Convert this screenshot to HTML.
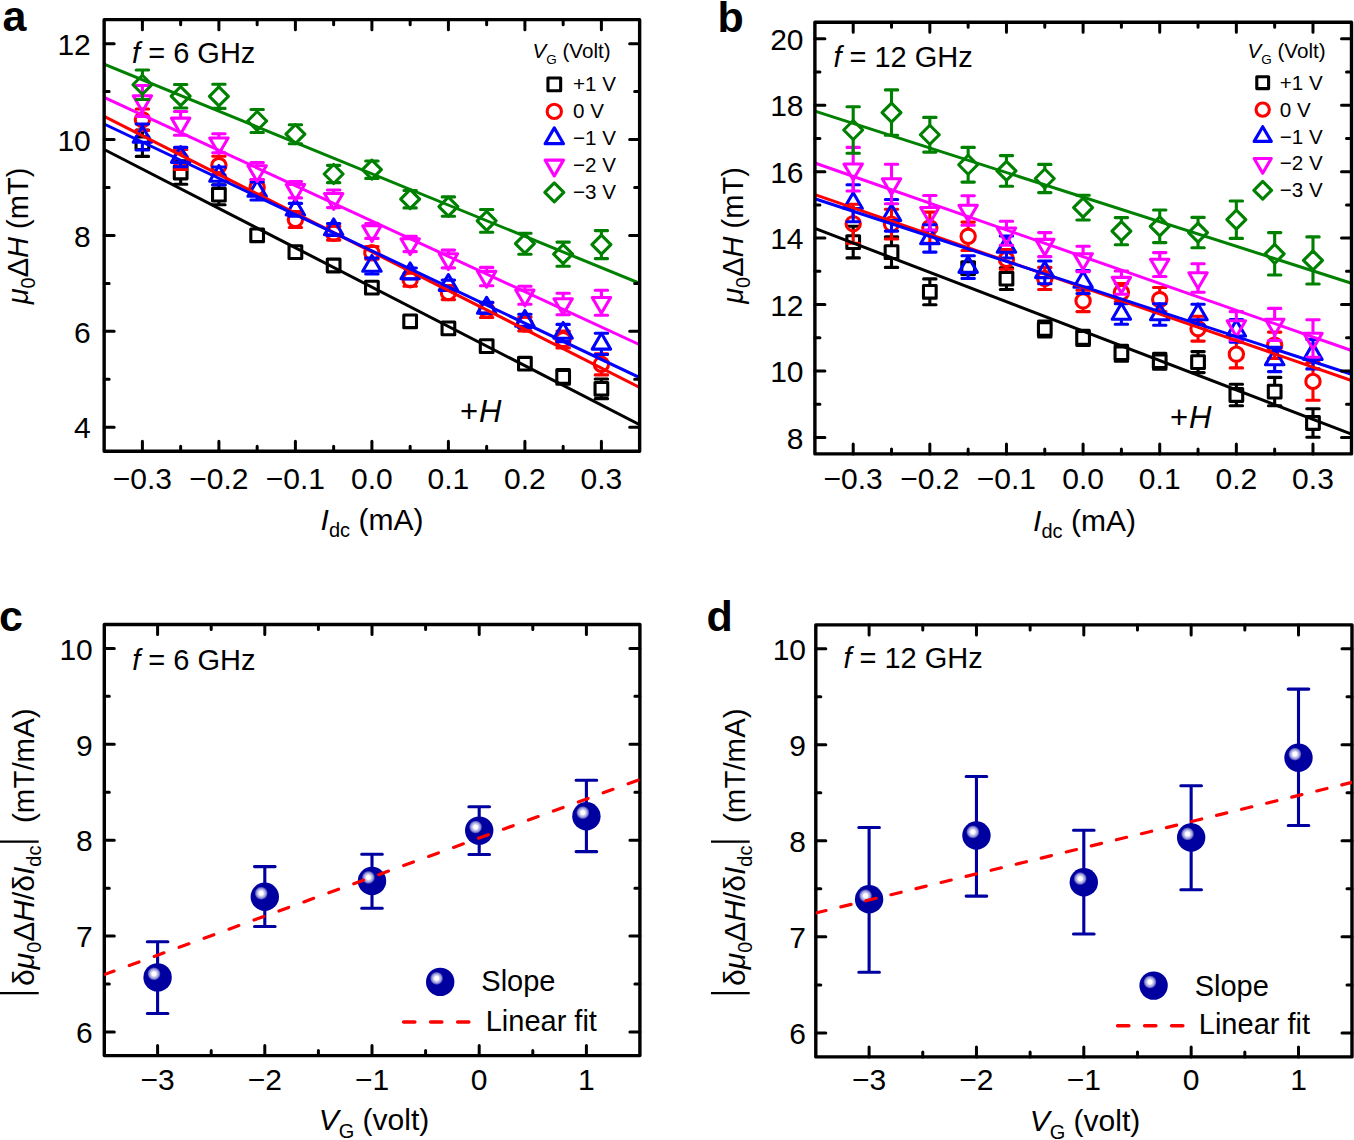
<!DOCTYPE html>
<html><head><meta charset="utf-8"><style>
html,body{margin:0;padding:0;background:#fff;}
svg{display:block;font-family:"Liberation Sans", sans-serif;}
</style></head><body>
<svg width="1354" height="1140" viewBox="0 0 1354 1140">
<rect width="1354" height="1140" fill="#fff"/>
<clipPath id="c104"><rect x="104.15" y="19.65" width="535.5" height="431.55"/></clipPath>
<g clip-path="url(#c104)">
<g><path d="M136.20 130.00H148.60M136.20 156.40H148.60M142.40 130.00V135.30M142.40 156.40V151.10" stroke="#000000" stroke-width="3.1" stroke-linecap="round" fill="none"/><path d="M174.45 160.70H186.85M174.45 184.30H186.85M180.65 160.70V164.60M180.65 184.30V180.40" stroke="#000000" stroke-width="3.1" stroke-linecap="round" fill="none"/><path d="M212.70 184.70H225.10M212.70 204.70H225.10M218.90 184.70V186.80M218.90 204.70V202.60" stroke="#000000" stroke-width="3.1" stroke-linecap="round" fill="none"/><path d="M556.95 369.50H569.35M556.95 384.30H569.35" stroke="#000000" stroke-width="3.1" stroke-linecap="round" fill="none"/><path d="M595.20 378.95H607.60M595.20 398.65H607.60M601.40 378.95V380.90M601.40 398.65V396.70" stroke="#000000" stroke-width="3.1" stroke-linecap="round" fill="none"/><rect x="136.05" y="136.85" width="12.70" height="12.70" fill="none" stroke="#000000" stroke-width="3.1" stroke-linejoin="round"/><rect x="174.30" y="166.15" width="12.70" height="12.70" fill="none" stroke="#000000" stroke-width="3.1" stroke-linejoin="round"/><rect x="212.55" y="188.35" width="12.70" height="12.70" fill="none" stroke="#000000" stroke-width="3.1" stroke-linejoin="round"/><rect x="250.80" y="228.95" width="12.70" height="12.70" fill="none" stroke="#000000" stroke-width="3.1" stroke-linejoin="round"/><rect x="289.05" y="245.75" width="12.70" height="12.70" fill="none" stroke="#000000" stroke-width="3.1" stroke-linejoin="round"/><rect x="327.30" y="259.15" width="12.70" height="12.70" fill="none" stroke="#000000" stroke-width="3.1" stroke-linejoin="round"/><rect x="365.55" y="281.25" width="12.70" height="12.70" fill="none" stroke="#000000" stroke-width="3.1" stroke-linejoin="round"/><rect x="403.80" y="314.95" width="12.70" height="12.70" fill="none" stroke="#000000" stroke-width="3.1" stroke-linejoin="round"/><rect x="442.05" y="322.05" width="12.70" height="12.70" fill="none" stroke="#000000" stroke-width="3.1" stroke-linejoin="round"/><rect x="480.30" y="339.75" width="12.70" height="12.70" fill="none" stroke="#000000" stroke-width="3.1" stroke-linejoin="round"/><rect x="518.55" y="357.35" width="12.70" height="12.70" fill="none" stroke="#000000" stroke-width="3.1" stroke-linejoin="round"/><rect x="556.80" y="370.55" width="12.70" height="12.70" fill="none" stroke="#000000" stroke-width="3.1" stroke-linejoin="round"/><rect x="595.05" y="382.45" width="12.70" height="12.70" fill="none" stroke="#000000" stroke-width="3.1" stroke-linejoin="round"/></g>
<g><path d="M136.20 109.00H148.60M136.20 130.40H148.60M142.40 109.00V111.00M142.40 130.40V128.40" stroke="#ff0000" stroke-width="3.1" stroke-linecap="round" fill="none"/><path d="M174.45 149.50H186.85M174.45 169.50H186.85M180.65 149.50V150.80M180.65 169.50V168.20" stroke="#ff0000" stroke-width="3.1" stroke-linecap="round" fill="none"/><path d="M212.70 156.30H225.10M212.70 174.70H225.10M218.90 156.30V156.80M218.90 174.70V174.20" stroke="#ff0000" stroke-width="3.1" stroke-linecap="round" fill="none"/><path d="M250.95 179.50H263.35M250.95 195.50H263.35" stroke="#ff0000" stroke-width="3.1" stroke-linecap="round" fill="none"/><path d="M289.20 211.50H301.60M289.20 227.50H301.60" stroke="#ff0000" stroke-width="3.1" stroke-linecap="round" fill="none"/><path d="M327.45 226.30H339.85M327.45 240.10H339.85" stroke="#ff0000" stroke-width="3.1" stroke-linecap="round" fill="none"/><path d="M365.70 246.50H378.10M365.70 259.10H378.10" stroke="#ff0000" stroke-width="3.1" stroke-linecap="round" fill="none"/><path d="M403.95 273.10H416.35M403.95 286.30H416.35" stroke="#ff0000" stroke-width="3.1" stroke-linecap="round" fill="none"/><path d="M442.20 285.60H454.60M442.20 299.60H454.60" stroke="#ff0000" stroke-width="3.1" stroke-linecap="round" fill="none"/><path d="M480.45 302.50H492.85M480.45 317.50H492.85" stroke="#ff0000" stroke-width="3.1" stroke-linecap="round" fill="none"/><path d="M518.70 317.00H531.10M518.70 331.00H531.10" stroke="#ff0000" stroke-width="3.1" stroke-linecap="round" fill="none"/><path d="M556.95 331.10H569.35M556.95 347.90H569.35" stroke="#ff0000" stroke-width="3.1" stroke-linecap="round" fill="none"/><path d="M595.20 353.70H607.60M595.20 374.90H607.60M601.40 353.70V355.60M601.40 374.90V373.00" stroke="#ff0000" stroke-width="3.1" stroke-linecap="round" fill="none"/><circle cx="142.40" cy="119.70" r="7.15" fill="none" stroke="#ff0000" stroke-width="3.1"/><circle cx="180.65" cy="159.50" r="7.15" fill="none" stroke="#ff0000" stroke-width="3.1"/><circle cx="218.90" cy="165.50" r="7.15" fill="none" stroke="#ff0000" stroke-width="3.1"/><circle cx="257.15" cy="187.50" r="7.15" fill="none" stroke="#ff0000" stroke-width="3.1"/><circle cx="295.40" cy="219.50" r="7.15" fill="none" stroke="#ff0000" stroke-width="3.1"/><circle cx="333.65" cy="233.20" r="7.15" fill="none" stroke="#ff0000" stroke-width="3.1"/><circle cx="371.90" cy="252.80" r="7.15" fill="none" stroke="#ff0000" stroke-width="3.1"/><circle cx="410.15" cy="279.70" r="7.15" fill="none" stroke="#ff0000" stroke-width="3.1"/><circle cx="448.40" cy="292.60" r="7.15" fill="none" stroke="#ff0000" stroke-width="3.1"/><circle cx="486.65" cy="310.00" r="7.15" fill="none" stroke="#ff0000" stroke-width="3.1"/><circle cx="524.90" cy="324.00" r="7.15" fill="none" stroke="#ff0000" stroke-width="3.1"/><circle cx="563.15" cy="339.50" r="7.15" fill="none" stroke="#ff0000" stroke-width="3.1"/><circle cx="601.40" cy="364.30" r="7.15" fill="none" stroke="#ff0000" stroke-width="3.1"/></g>
<g><path d="M136.20 124.00H148.60M136.20 150.00H148.60M142.40 124.00V126.50M142.40 150.00V143.80" stroke="#0000ff" stroke-width="3.1" stroke-linecap="round" fill="none"/><path d="M174.45 147.40H186.85M174.45 166.80H186.85M180.65 166.80V163.90" stroke="#0000ff" stroke-width="3.1" stroke-linecap="round" fill="none"/><path d="M212.70 167.00H225.10M212.70 185.00H225.10M218.90 185.00V182.80" stroke="#0000ff" stroke-width="3.1" stroke-linecap="round" fill="none"/><path d="M250.95 182.00H263.35M250.95 200.00H263.35M257.15 200.00V197.80" stroke="#0000ff" stroke-width="3.1" stroke-linecap="round" fill="none"/><path d="M289.20 203.40H301.60M289.20 216.20H301.60" stroke="#0000ff" stroke-width="3.1" stroke-linecap="round" fill="none"/><path d="M327.45 223.50H339.85M327.45 235.50H339.85" stroke="#0000ff" stroke-width="3.1" stroke-linecap="round" fill="none"/><path d="M365.70 258.00H378.10M365.70 274.00H378.10M371.90 274.00V272.80" stroke="#0000ff" stroke-width="3.1" stroke-linecap="round" fill="none"/><path d="M403.95 268.00H416.35M403.95 279.00H416.35" stroke="#0000ff" stroke-width="3.1" stroke-linecap="round" fill="none"/><path d="M442.20 280.10H454.60M442.20 290.10H454.60" stroke="#0000ff" stroke-width="3.1" stroke-linecap="round" fill="none"/><path d="M480.45 302.40H492.85M480.45 313.40H492.85" stroke="#0000ff" stroke-width="3.1" stroke-linecap="round" fill="none"/><path d="M518.70 314.20H531.10M518.70 327.80H531.10" stroke="#0000ff" stroke-width="3.1" stroke-linecap="round" fill="none"/><path d="M556.95 324.40H569.35M556.95 341.60H569.35M563.15 341.60V339.80" stroke="#0000ff" stroke-width="3.1" stroke-linecap="round" fill="none"/><path d="M595.20 333.20H607.60M595.20 354.50H607.60M601.40 333.20V333.35M601.40 354.50V350.65" stroke="#0000ff" stroke-width="3.1" stroke-linecap="round" fill="none"/><path d="M142.40 126.47L151.60 142.27H133.20Z" fill="none" stroke="#0000ff" stroke-width="3.1" stroke-linejoin="round"/><path d="M180.65 146.57L189.85 162.37H171.45Z" fill="none" stroke="#0000ff" stroke-width="3.1" stroke-linejoin="round"/><path d="M218.90 165.47L228.10 181.27H209.70Z" fill="none" stroke="#0000ff" stroke-width="3.1" stroke-linejoin="round"/><path d="M257.15 180.47L266.35 196.27H247.95Z" fill="none" stroke="#0000ff" stroke-width="3.1" stroke-linejoin="round"/><path d="M295.40 199.27L304.60 215.07H286.20Z" fill="none" stroke="#0000ff" stroke-width="3.1" stroke-linejoin="round"/><path d="M333.65 218.97L342.85 234.77H324.45Z" fill="none" stroke="#0000ff" stroke-width="3.1" stroke-linejoin="round"/><path d="M371.90 255.47L381.10 271.27H362.70Z" fill="none" stroke="#0000ff" stroke-width="3.1" stroke-linejoin="round"/><path d="M410.15 262.97L419.35 278.77H400.95Z" fill="none" stroke="#0000ff" stroke-width="3.1" stroke-linejoin="round"/><path d="M448.40 274.57L457.60 290.37H439.20Z" fill="none" stroke="#0000ff" stroke-width="3.1" stroke-linejoin="round"/><path d="M486.65 297.37L495.85 313.17H477.45Z" fill="none" stroke="#0000ff" stroke-width="3.1" stroke-linejoin="round"/><path d="M524.90 310.47L534.10 326.27H515.70Z" fill="none" stroke="#0000ff" stroke-width="3.1" stroke-linejoin="round"/><path d="M563.15 322.47L572.35 338.27H553.95Z" fill="none" stroke="#0000ff" stroke-width="3.1" stroke-linejoin="round"/><path d="M601.40 333.32L610.60 349.12H592.20Z" fill="none" stroke="#0000ff" stroke-width="3.1" stroke-linejoin="round"/></g>
<g><path d="M136.20 85.50H148.60M136.20 116.50H148.60M142.40 85.50V94.20M142.40 116.50V111.50" stroke="#ff00ff" stroke-width="3.1" stroke-linecap="round" fill="none"/><path d="M174.45 111.55H186.85M174.45 135.25H186.85M180.65 111.55V116.60M180.65 135.25V133.90" stroke="#ff00ff" stroke-width="3.1" stroke-linecap="round" fill="none"/><path d="M212.70 133.70H225.10M212.70 152.70H225.10M218.90 133.70V136.40" stroke="#ff00ff" stroke-width="3.1" stroke-linecap="round" fill="none"/><path d="M250.95 162.50H263.35M250.95 179.50H263.35M257.15 162.50V164.20" stroke="#ff00ff" stroke-width="3.1" stroke-linecap="round" fill="none"/><path d="M289.20 181.50H301.60M289.20 197.90H301.60M295.40 181.50V182.90" stroke="#ff00ff" stroke-width="3.1" stroke-linecap="round" fill="none"/><path d="M327.45 190.00H339.85M327.45 207.60H339.85M333.65 190.00V192.00" stroke="#ff00ff" stroke-width="3.1" stroke-linecap="round" fill="none"/><path d="M365.70 223.60H378.10M365.70 238.40H378.10M371.90 223.60V224.20" stroke="#ff00ff" stroke-width="3.1" stroke-linecap="round" fill="none"/><path d="M403.95 236.40H416.35M403.95 251.60H416.35M410.15 236.40V237.20" stroke="#ff00ff" stroke-width="3.1" stroke-linecap="round" fill="none"/><path d="M442.20 250.10H454.60M442.20 267.90H454.60M448.40 250.10V252.20" stroke="#ff00ff" stroke-width="3.1" stroke-linecap="round" fill="none"/><path d="M480.45 267.40H492.85M480.45 285.80H492.85M486.65 267.40V269.80" stroke="#ff00ff" stroke-width="3.1" stroke-linecap="round" fill="none"/><path d="M518.70 286.30H531.10M518.70 304.30H531.10M524.90 286.30V288.50" stroke="#ff00ff" stroke-width="3.1" stroke-linecap="round" fill="none"/><path d="M556.95 293.20H569.35M556.95 314.80H569.35M563.15 293.20V297.20M563.15 314.80V314.50" stroke="#ff00ff" stroke-width="3.1" stroke-linecap="round" fill="none"/><path d="M595.20 290.20H607.60M595.20 315.20H607.60M601.40 290.20V295.90M601.40 315.20V313.20" stroke="#ff00ff" stroke-width="3.1" stroke-linecap="round" fill="none"/><path d="M142.40 111.53L151.60 95.73H133.20Z" fill="none" stroke="#ff00ff" stroke-width="3.1" stroke-linejoin="round"/><path d="M180.65 133.93L189.85 118.13H171.45Z" fill="none" stroke="#ff00ff" stroke-width="3.1" stroke-linejoin="round"/><path d="M218.90 153.73L228.10 137.93H209.70Z" fill="none" stroke="#ff00ff" stroke-width="3.1" stroke-linejoin="round"/><path d="M257.15 181.53L266.35 165.73H247.95Z" fill="none" stroke="#ff00ff" stroke-width="3.1" stroke-linejoin="round"/><path d="M295.40 200.23L304.60 184.43H286.20Z" fill="none" stroke="#ff00ff" stroke-width="3.1" stroke-linejoin="round"/><path d="M333.65 209.33L342.85 193.53H324.45Z" fill="none" stroke="#ff00ff" stroke-width="3.1" stroke-linejoin="round"/><path d="M371.90 241.53L381.10 225.73H362.70Z" fill="none" stroke="#ff00ff" stroke-width="3.1" stroke-linejoin="round"/><path d="M410.15 254.53L419.35 238.73H400.95Z" fill="none" stroke="#ff00ff" stroke-width="3.1" stroke-linejoin="round"/><path d="M448.40 269.53L457.60 253.73H439.20Z" fill="none" stroke="#ff00ff" stroke-width="3.1" stroke-linejoin="round"/><path d="M486.65 287.13L495.85 271.33H477.45Z" fill="none" stroke="#ff00ff" stroke-width="3.1" stroke-linejoin="round"/><path d="M524.90 305.83L534.10 290.03H515.70Z" fill="none" stroke="#ff00ff" stroke-width="3.1" stroke-linejoin="round"/><path d="M563.15 314.53L572.35 298.73H553.95Z" fill="none" stroke="#ff00ff" stroke-width="3.1" stroke-linejoin="round"/><path d="M601.40 313.23L610.60 297.43H592.20Z" fill="none" stroke="#ff00ff" stroke-width="3.1" stroke-linejoin="round"/></g>
<g><path d="M136.20 70.05H148.60M136.20 99.45H148.60M142.40 70.05V75.25M142.40 99.45V94.25" stroke="#008000" stroke-width="3.1" stroke-linecap="round" fill="none"/><path d="M174.45 84.45H186.85M174.45 107.95H186.85M180.65 84.45V86.70M180.65 107.95V105.70" stroke="#008000" stroke-width="3.1" stroke-linecap="round" fill="none"/><path d="M212.70 84.20H225.10M212.70 108.40H225.10M218.90 84.20V86.80M218.90 108.40V105.80" stroke="#008000" stroke-width="3.1" stroke-linecap="round" fill="none"/><path d="M250.95 109.50H263.35M250.95 132.50H263.35M257.15 109.50V111.50M257.15 132.50V130.50" stroke="#008000" stroke-width="3.1" stroke-linecap="round" fill="none"/><path d="M289.20 124.70H301.60M289.20 143.70H301.60" stroke="#008000" stroke-width="3.1" stroke-linecap="round" fill="none"/><path d="M327.45 165.35H339.85M327.45 182.65H339.85" stroke="#008000" stroke-width="3.1" stroke-linecap="round" fill="none"/><path d="M365.70 161.00H378.10M365.70 178.40H378.10" stroke="#008000" stroke-width="3.1" stroke-linecap="round" fill="none"/><path d="M403.95 190.50H416.35M403.95 207.90H416.35" stroke="#008000" stroke-width="3.1" stroke-linecap="round" fill="none"/><path d="M442.20 196.90H454.60M442.20 216.30H454.60M448.40 196.90V197.10M448.40 216.30V216.10" stroke="#008000" stroke-width="3.1" stroke-linecap="round" fill="none"/><path d="M480.45 209.50H492.85M480.45 232.30H492.85M486.65 209.50V211.40M486.65 232.30V230.40" stroke="#008000" stroke-width="3.1" stroke-linecap="round" fill="none"/><path d="M518.70 233.20H531.10M518.70 254.20H531.10M524.90 233.20V234.20M524.90 254.20V253.20" stroke="#008000" stroke-width="3.1" stroke-linecap="round" fill="none"/><path d="M556.95 242.10H569.35M556.95 266.30H569.35M563.15 242.10V244.70M563.15 266.30V263.70" stroke="#008000" stroke-width="3.1" stroke-linecap="round" fill="none"/><path d="M595.20 230.60H607.60M595.20 258.60H607.60M601.40 230.60V235.10M601.40 258.60V254.10" stroke="#008000" stroke-width="3.1" stroke-linecap="round" fill="none"/><path d="M142.40 75.25L151.90 84.75L142.40 94.25L132.90 84.75Z" fill="none" stroke="#008000" stroke-width="3.1" stroke-linejoin="round"/><path d="M180.65 86.70L190.15 96.20L180.65 105.70L171.15 96.20Z" fill="none" stroke="#008000" stroke-width="3.1" stroke-linejoin="round"/><path d="M218.90 86.80L228.40 96.30L218.90 105.80L209.40 96.30Z" fill="none" stroke="#008000" stroke-width="3.1" stroke-linejoin="round"/><path d="M257.15 111.50L266.65 121.00L257.15 130.50L247.65 121.00Z" fill="none" stroke="#008000" stroke-width="3.1" stroke-linejoin="round"/><path d="M295.40 124.70L304.90 134.20L295.40 143.70L285.90 134.20Z" fill="none" stroke="#008000" stroke-width="3.1" stroke-linejoin="round"/><path d="M333.65 164.50L343.15 174.00L333.65 183.50L324.15 174.00Z" fill="none" stroke="#008000" stroke-width="3.1" stroke-linejoin="round"/><path d="M371.90 160.20L381.40 169.70L371.90 179.20L362.40 169.70Z" fill="none" stroke="#008000" stroke-width="3.1" stroke-linejoin="round"/><path d="M410.15 189.70L419.65 199.20L410.15 208.70L400.65 199.20Z" fill="none" stroke="#008000" stroke-width="3.1" stroke-linejoin="round"/><path d="M448.40 197.10L457.90 206.60L448.40 216.10L438.90 206.60Z" fill="none" stroke="#008000" stroke-width="3.1" stroke-linejoin="round"/><path d="M486.65 211.40L496.15 220.90L486.65 230.40L477.15 220.90Z" fill="none" stroke="#008000" stroke-width="3.1" stroke-linejoin="round"/><path d="M524.90 234.20L534.40 243.70L524.90 253.20L515.40 243.70Z" fill="none" stroke="#008000" stroke-width="3.1" stroke-linejoin="round"/><path d="M563.15 244.70L572.65 254.20L563.15 263.70L553.65 254.20Z" fill="none" stroke="#008000" stroke-width="3.1" stroke-linejoin="round"/><path d="M601.40 235.10L610.90 244.60L601.40 254.10L591.90 244.60Z" fill="none" stroke="#008000" stroke-width="3.1" stroke-linejoin="round"/></g>
<line x1="104.15" y1="149.50" x2="639.65" y2="424.70" stroke="#000000" stroke-width="3.0"/>
<line x1="104.15" y1="116.40" x2="639.65" y2="387.40" stroke="#ff0000" stroke-width="3.0"/>
<line x1="104.15" y1="124.00" x2="639.65" y2="377.60" stroke="#0000ff" stroke-width="3.0"/>
<line x1="104.15" y1="97.30" x2="639.65" y2="344.70" stroke="#ff00ff" stroke-width="3.0"/>
<line x1="104.15" y1="64.20" x2="639.65" y2="283.30" stroke="#008000" stroke-width="3.0"/>
</g>
<clipPath id="c814"><rect x="814.9" y="22.2" width="536.6" height="431.7"/></clipPath>
<g clip-path="url(#c814)">
<g><path d="M847.00 226.30H859.40M847.00 257.90H859.40M853.20 226.30V234.20M853.20 257.90V250.00" stroke="#000000" stroke-width="3.1" stroke-linecap="round" fill="none"/><path d="M885.31 236.80H897.72M885.31 267.40H897.72M891.51 236.80V244.20M891.51 267.40V260.00" stroke="#000000" stroke-width="3.1" stroke-linecap="round" fill="none"/><path d="M923.63 278.90H936.03M923.63 304.70H936.03M929.83 278.90V283.90M929.83 304.70V299.70" stroke="#000000" stroke-width="3.1" stroke-linecap="round" fill="none"/><path d="M1000.26 267.90H1012.66M1000.26 289.50H1012.66M1006.46 267.90V270.80M1006.46 289.50V286.60" stroke="#000000" stroke-width="3.1" stroke-linecap="round" fill="none"/><path d="M1038.58 321.00H1050.98M1038.58 337.00H1050.98M1044.78 321.00V321.10M1044.78 337.00V336.90" stroke="#000000" stroke-width="3.1" stroke-linecap="round" fill="none"/><path d="M1076.89 330.40H1089.29M1076.89 345.40H1089.29" stroke="#000000" stroke-width="3.1" stroke-linecap="round" fill="none"/><path d="M1115.20 345.20H1127.61M1115.20 361.20H1127.61M1121.40 345.20V345.30M1121.40 361.20V361.10" stroke="#000000" stroke-width="3.1" stroke-linecap="round" fill="none"/><path d="M1153.52 353.30H1165.92M1153.52 369.30H1165.92M1159.72 353.30V353.40M1159.72 369.30V369.20" stroke="#000000" stroke-width="3.1" stroke-linecap="round" fill="none"/><path d="M1191.84 351.60H1204.24M1191.84 372.60H1204.24M1198.04 351.60V354.20M1198.04 372.60V370.00" stroke="#000000" stroke-width="3.1" stroke-linecap="round" fill="none"/><path d="M1230.15 384.20H1242.55M1230.15 405.80H1242.55M1236.35 384.20V387.10M1236.35 405.80V402.90" stroke="#000000" stroke-width="3.1" stroke-linecap="round" fill="none"/><path d="M1268.46 377.40H1280.87M1268.46 405.80H1280.87M1274.66 377.40V383.70M1274.66 405.80V399.50" stroke="#000000" stroke-width="3.1" stroke-linecap="round" fill="none"/><path d="M1306.78 408.80H1319.18M1306.78 437.20H1319.18M1312.98 408.80V415.10M1312.98 437.20V430.90" stroke="#000000" stroke-width="3.1" stroke-linecap="round" fill="none"/><rect x="846.85" y="235.75" width="12.70" height="12.70" fill="none" stroke="#000000" stroke-width="3.1" stroke-linejoin="round"/><rect x="885.16" y="245.75" width="12.70" height="12.70" fill="none" stroke="#000000" stroke-width="3.1" stroke-linejoin="round"/><rect x="923.48" y="285.45" width="12.70" height="12.70" fill="none" stroke="#000000" stroke-width="3.1" stroke-linejoin="round"/><rect x="961.80" y="261.75" width="12.70" height="12.70" fill="none" stroke="#000000" stroke-width="3.1" stroke-linejoin="round"/><rect x="1000.11" y="272.35" width="12.70" height="12.70" fill="none" stroke="#000000" stroke-width="3.1" stroke-linejoin="round"/><rect x="1038.43" y="322.65" width="12.70" height="12.70" fill="none" stroke="#000000" stroke-width="3.1" stroke-linejoin="round"/><rect x="1076.74" y="331.55" width="12.70" height="12.70" fill="none" stroke="#000000" stroke-width="3.1" stroke-linejoin="round"/><rect x="1115.06" y="346.85" width="12.70" height="12.70" fill="none" stroke="#000000" stroke-width="3.1" stroke-linejoin="round"/><rect x="1153.37" y="354.95" width="12.70" height="12.70" fill="none" stroke="#000000" stroke-width="3.1" stroke-linejoin="round"/><rect x="1191.69" y="355.75" width="12.70" height="12.70" fill="none" stroke="#000000" stroke-width="3.1" stroke-linejoin="round"/><rect x="1230.00" y="388.65" width="12.70" height="12.70" fill="none" stroke="#000000" stroke-width="3.1" stroke-linejoin="round"/><rect x="1268.32" y="385.25" width="12.70" height="12.70" fill="none" stroke="#000000" stroke-width="3.1" stroke-linejoin="round"/><rect x="1306.63" y="416.65" width="12.70" height="12.70" fill="none" stroke="#000000" stroke-width="3.1" stroke-linejoin="round"/></g>
<g><path d="M847.00 204.20H859.40M847.00 243.20H859.40M853.20 204.20V215.00M853.20 243.20V232.40" stroke="#ff0000" stroke-width="3.1" stroke-linecap="round" fill="none"/><path d="M885.31 209.20H897.72M885.31 239.00H897.72M891.51 209.20V215.40M891.51 239.00V232.80" stroke="#ff0000" stroke-width="3.1" stroke-linecap="round" fill="none"/><path d="M923.63 212.10H936.03M923.63 243.20H936.03M929.83 212.10V218.95M929.83 243.20V236.35" stroke="#ff0000" stroke-width="3.1" stroke-linecap="round" fill="none"/><path d="M961.95 222.10H974.35M961.95 250.50H974.35M968.15 222.10V227.60M968.15 250.50V245.00" stroke="#ff0000" stroke-width="3.1" stroke-linecap="round" fill="none"/><path d="M1000.26 249.50H1012.66M1000.26 269.20H1012.66M1006.46 249.50V250.65M1006.46 269.20V268.05" stroke="#ff0000" stroke-width="3.1" stroke-linecap="round" fill="none"/><path d="M1038.58 267.40H1050.98M1038.58 289.50H1050.98M1044.78 267.40V269.75M1044.78 289.50V287.15" stroke="#ff0000" stroke-width="3.1" stroke-linecap="round" fill="none"/><path d="M1076.89 290.30H1089.29M1076.89 311.60H1089.29M1083.09 290.30V292.25M1083.09 311.60V309.65" stroke="#ff0000" stroke-width="3.1" stroke-linecap="round" fill="none"/><path d="M1115.20 283.50H1127.61M1115.20 301.50H1127.61M1121.40 283.50V283.80M1121.40 301.50V301.20" stroke="#ff0000" stroke-width="3.1" stroke-linecap="round" fill="none"/><path d="M1153.52 287.50H1165.92M1153.52 311.50H1165.92M1159.72 287.50V290.80M1159.72 311.50V308.20" stroke="#ff0000" stroke-width="3.1" stroke-linecap="round" fill="none"/><path d="M1191.84 316.30H1204.24M1191.84 341.10H1204.24M1198.04 316.30V320.00M1198.04 341.10V337.40" stroke="#ff0000" stroke-width="3.1" stroke-linecap="round" fill="none"/><path d="M1230.15 340.50H1242.55M1230.15 367.90H1242.55M1236.35 340.50V345.50M1236.35 367.90V362.90" stroke="#ff0000" stroke-width="3.1" stroke-linecap="round" fill="none"/><path d="M1268.46 332.10H1280.87M1268.46 358.40H1280.87M1274.66 332.10V336.55M1274.66 358.40V353.95" stroke="#ff0000" stroke-width="3.1" stroke-linecap="round" fill="none"/><path d="M1306.78 362.50H1319.18M1306.78 400.30H1319.18M1312.98 362.50V372.70M1312.98 400.30V390.10" stroke="#ff0000" stroke-width="3.1" stroke-linecap="round" fill="none"/><circle cx="853.20" cy="223.70" r="7.15" fill="none" stroke="#ff0000" stroke-width="3.1"/><circle cx="891.51" cy="224.10" r="7.15" fill="none" stroke="#ff0000" stroke-width="3.1"/><circle cx="929.83" cy="227.65" r="7.15" fill="none" stroke="#ff0000" stroke-width="3.1"/><circle cx="968.15" cy="236.30" r="7.15" fill="none" stroke="#ff0000" stroke-width="3.1"/><circle cx="1006.46" cy="259.35" r="7.15" fill="none" stroke="#ff0000" stroke-width="3.1"/><circle cx="1044.78" cy="278.45" r="7.15" fill="none" stroke="#ff0000" stroke-width="3.1"/><circle cx="1083.09" cy="300.95" r="7.15" fill="none" stroke="#ff0000" stroke-width="3.1"/><circle cx="1121.40" cy="292.50" r="7.15" fill="none" stroke="#ff0000" stroke-width="3.1"/><circle cx="1159.72" cy="299.50" r="7.15" fill="none" stroke="#ff0000" stroke-width="3.1"/><circle cx="1198.04" cy="328.70" r="7.15" fill="none" stroke="#ff0000" stroke-width="3.1"/><circle cx="1236.35" cy="354.20" r="7.15" fill="none" stroke="#ff0000" stroke-width="3.1"/><circle cx="1274.66" cy="345.25" r="7.15" fill="none" stroke="#ff0000" stroke-width="3.1"/><circle cx="1312.98" cy="381.40" r="7.15" fill="none" stroke="#ff0000" stroke-width="3.1"/></g>
<g><path d="M847.00 184.70H859.40M847.00 221.70H859.40M853.20 184.70V192.70M853.20 221.70V210.00" stroke="#0000ff" stroke-width="3.1" stroke-linecap="round" fill="none"/><path d="M885.31 199.50H897.72M885.31 231.10H897.72M891.51 199.50V204.80M891.51 231.10V222.10" stroke="#0000ff" stroke-width="3.1" stroke-linecap="round" fill="none"/><path d="M923.63 224.70H936.03M923.63 252.10H936.03M929.83 224.70V227.90M929.83 252.10V245.20" stroke="#0000ff" stroke-width="3.1" stroke-linecap="round" fill="none"/><path d="M961.95 255.80H974.35M961.95 278.40H974.35M968.15 255.80V256.60M968.15 278.40V273.90" stroke="#0000ff" stroke-width="3.1" stroke-linecap="round" fill="none"/><path d="M1000.26 236.00H1012.66M1000.26 258.00H1012.66M1006.46 236.00V236.50M1006.46 258.00V253.80" stroke="#0000ff" stroke-width="3.1" stroke-linecap="round" fill="none"/><path d="M1038.58 261.00H1050.98M1038.58 283.70H1050.98M1044.78 261.00V261.85M1044.78 283.70V279.15" stroke="#0000ff" stroke-width="3.1" stroke-linecap="round" fill="none"/><path d="M1076.89 270.50H1089.29M1076.89 293.50H1089.29M1083.09 270.50V271.50M1083.09 293.50V288.80" stroke="#0000ff" stroke-width="3.1" stroke-linecap="round" fill="none"/><path d="M1115.20 303.70H1127.61M1115.20 324.20H1127.61M1121.40 324.20V320.75" stroke="#0000ff" stroke-width="3.1" stroke-linecap="round" fill="none"/><path d="M1153.52 303.70H1165.92M1153.52 325.30H1165.92M1159.72 303.70V304.00M1159.72 325.30V321.30" stroke="#0000ff" stroke-width="3.1" stroke-linecap="round" fill="none"/><path d="M1191.84 304.20H1204.24M1191.84 324.80H1204.24M1198.04 324.80V321.30" stroke="#0000ff" stroke-width="3.1" stroke-linecap="round" fill="none"/><path d="M1230.15 319.50H1242.55M1230.15 342.10H1242.55M1236.35 319.50V320.30M1236.35 342.10V337.60" stroke="#0000ff" stroke-width="3.1" stroke-linecap="round" fill="none"/><path d="M1268.46 347.40H1280.87M1268.46 371.60H1280.87M1274.66 347.40V349.00M1274.66 371.60V366.30" stroke="#0000ff" stroke-width="3.1" stroke-linecap="round" fill="none"/><path d="M1306.78 339.40H1319.18M1306.78 368.90H1319.18M1312.98 339.40V343.65M1312.98 368.90V360.95" stroke="#0000ff" stroke-width="3.1" stroke-linecap="round" fill="none"/><path d="M853.20 192.67L862.40 208.47H844.00Z" fill="none" stroke="#0000ff" stroke-width="3.1" stroke-linejoin="round"/><path d="M891.51 204.77L900.72 220.57H882.31Z" fill="none" stroke="#0000ff" stroke-width="3.1" stroke-linejoin="round"/><path d="M929.83 227.87L939.03 243.67H920.63Z" fill="none" stroke="#0000ff" stroke-width="3.1" stroke-linejoin="round"/><path d="M968.15 256.57L977.35 272.37H958.95Z" fill="none" stroke="#0000ff" stroke-width="3.1" stroke-linejoin="round"/><path d="M1006.46 236.47L1015.66 252.27H997.26Z" fill="none" stroke="#0000ff" stroke-width="3.1" stroke-linejoin="round"/><path d="M1044.78 261.82L1053.98 277.62H1035.58Z" fill="none" stroke="#0000ff" stroke-width="3.1" stroke-linejoin="round"/><path d="M1083.09 271.47L1092.29 287.27H1073.89Z" fill="none" stroke="#0000ff" stroke-width="3.1" stroke-linejoin="round"/><path d="M1121.40 303.42L1130.61 319.22H1112.20Z" fill="none" stroke="#0000ff" stroke-width="3.1" stroke-linejoin="round"/><path d="M1159.72 303.97L1168.92 319.77H1150.52Z" fill="none" stroke="#0000ff" stroke-width="3.1" stroke-linejoin="round"/><path d="M1198.04 303.97L1207.24 319.77H1188.84Z" fill="none" stroke="#0000ff" stroke-width="3.1" stroke-linejoin="round"/><path d="M1236.35 320.27L1245.55 336.07H1227.15Z" fill="none" stroke="#0000ff" stroke-width="3.1" stroke-linejoin="round"/><path d="M1274.66 348.97L1283.87 364.77H1265.46Z" fill="none" stroke="#0000ff" stroke-width="3.1" stroke-linejoin="round"/><path d="M1312.98 343.62L1322.18 359.42H1303.78Z" fill="none" stroke="#0000ff" stroke-width="3.1" stroke-linejoin="round"/></g>
<g><path d="M847.00 147.40H859.40M847.00 191.00H859.40M853.20 147.40V162.40M853.20 191.00V179.70" stroke="#ff00ff" stroke-width="3.1" stroke-linecap="round" fill="none"/><path d="M885.31 164.20H897.72M885.31 203.80H897.72M891.51 164.20V177.20M891.51 203.80V194.50" stroke="#ff00ff" stroke-width="3.1" stroke-linecap="round" fill="none"/><path d="M923.63 195.50H936.03M923.63 230.00H936.03M929.83 195.50V205.95M929.83 230.00V223.25" stroke="#ff00ff" stroke-width="3.1" stroke-linecap="round" fill="none"/><path d="M961.95 195.75H974.35M961.95 225.25H974.35M968.15 195.75V203.70M968.15 225.25V221.00" stroke="#ff00ff" stroke-width="3.1" stroke-linecap="round" fill="none"/><path d="M1000.26 221.30H1012.66M1000.26 245.30H1012.66M1006.46 221.30V226.50M1006.46 245.30V243.80" stroke="#ff00ff" stroke-width="3.1" stroke-linecap="round" fill="none"/><path d="M1038.58 232.60H1050.98M1038.58 256.60H1050.98M1044.78 232.60V237.80M1044.78 256.60V255.10" stroke="#ff00ff" stroke-width="3.1" stroke-linecap="round" fill="none"/><path d="M1076.89 246.30H1089.29M1076.89 271.60H1089.29M1083.09 246.30V252.15M1083.09 271.60V269.45" stroke="#ff00ff" stroke-width="3.1" stroke-linecap="round" fill="none"/><path d="M1115.20 271.00H1127.61M1115.20 294.20H1127.61M1121.40 271.00V275.80M1121.40 294.20V293.10" stroke="#ff00ff" stroke-width="3.1" stroke-linecap="round" fill="none"/><path d="M1153.52 252.60H1165.92M1153.52 276.50H1165.92M1159.72 252.60V257.75M1159.72 276.50V275.05" stroke="#ff00ff" stroke-width="3.1" stroke-linecap="round" fill="none"/><path d="M1191.84 263.70H1204.24M1191.84 292.30H1204.24M1198.04 263.70V271.20M1198.04 292.30V288.50" stroke="#ff00ff" stroke-width="3.1" stroke-linecap="round" fill="none"/><path d="M1230.15 311.60H1242.55M1230.15 340.40H1242.55M1236.35 311.60V319.20M1236.35 340.40V336.50" stroke="#ff00ff" stroke-width="3.1" stroke-linecap="round" fill="none"/><path d="M1268.46 308.40H1280.87M1268.46 340.50H1280.87M1274.66 308.40V317.65M1274.66 340.50V334.95" stroke="#ff00ff" stroke-width="3.1" stroke-linecap="round" fill="none"/><path d="M1306.78 319.70H1319.18M1306.78 357.30H1319.18M1312.98 319.70V331.70M1312.98 357.30V349.00" stroke="#ff00ff" stroke-width="3.1" stroke-linecap="round" fill="none"/><path d="M853.20 179.73L862.40 163.93H844.00Z" fill="none" stroke="#ff00ff" stroke-width="3.1" stroke-linejoin="round"/><path d="M891.51 194.53L900.72 178.73H882.31Z" fill="none" stroke="#ff00ff" stroke-width="3.1" stroke-linejoin="round"/><path d="M929.83 223.28L939.03 207.48H920.63Z" fill="none" stroke="#ff00ff" stroke-width="3.1" stroke-linejoin="round"/><path d="M968.15 221.03L977.35 205.23H958.95Z" fill="none" stroke="#ff00ff" stroke-width="3.1" stroke-linejoin="round"/><path d="M1006.46 243.83L1015.66 228.03H997.26Z" fill="none" stroke="#ff00ff" stroke-width="3.1" stroke-linejoin="round"/><path d="M1044.78 255.13L1053.98 239.33H1035.58Z" fill="none" stroke="#ff00ff" stroke-width="3.1" stroke-linejoin="round"/><path d="M1083.09 269.48L1092.29 253.68H1073.89Z" fill="none" stroke="#ff00ff" stroke-width="3.1" stroke-linejoin="round"/><path d="M1121.40 293.13L1130.61 277.33H1112.20Z" fill="none" stroke="#ff00ff" stroke-width="3.1" stroke-linejoin="round"/><path d="M1159.72 275.08L1168.92 259.28H1150.52Z" fill="none" stroke="#ff00ff" stroke-width="3.1" stroke-linejoin="round"/><path d="M1198.04 288.53L1207.24 272.73H1188.84Z" fill="none" stroke="#ff00ff" stroke-width="3.1" stroke-linejoin="round"/><path d="M1236.35 336.53L1245.55 320.73H1227.15Z" fill="none" stroke="#ff00ff" stroke-width="3.1" stroke-linejoin="round"/><path d="M1274.66 334.98L1283.87 319.18H1265.46Z" fill="none" stroke="#ff00ff" stroke-width="3.1" stroke-linejoin="round"/><path d="M1312.98 349.03L1322.18 333.23H1303.78Z" fill="none" stroke="#ff00ff" stroke-width="3.1" stroke-linejoin="round"/></g>
<g><path d="M847.00 106.80H859.40M847.00 153.20H859.40M853.20 106.80V120.50M853.20 153.20V139.50" stroke="#008000" stroke-width="3.1" stroke-linecap="round" fill="none"/><path d="M885.31 89.90H897.72M885.31 135.30H897.72M891.51 89.90V103.10M891.51 135.30V122.10" stroke="#008000" stroke-width="3.1" stroke-linecap="round" fill="none"/><path d="M923.63 117.40H936.03M923.63 152.10H936.03M929.83 117.40V125.25M929.83 152.10V144.25" stroke="#008000" stroke-width="3.1" stroke-linecap="round" fill="none"/><path d="M961.95 147.40H974.35M961.95 182.10H974.35M968.15 147.40V155.25M968.15 182.10V174.25" stroke="#008000" stroke-width="3.1" stroke-linecap="round" fill="none"/><path d="M1000.26 155.60H1012.66M1000.26 186.30H1012.66M1006.46 155.60V161.45M1006.46 186.30V180.45" stroke="#008000" stroke-width="3.1" stroke-linecap="round" fill="none"/><path d="M1038.58 164.40H1050.98M1038.58 192.60H1050.98M1044.78 164.40V169.00M1044.78 192.60V188.00" stroke="#008000" stroke-width="3.1" stroke-linecap="round" fill="none"/><path d="M1076.89 195.30H1089.29M1076.89 220.00H1089.29M1083.09 195.30V198.15M1083.09 220.00V217.15" stroke="#008000" stroke-width="3.1" stroke-linecap="round" fill="none"/><path d="M1115.20 217.60H1127.61M1115.20 244.70H1127.61M1121.40 217.60V221.65M1121.40 244.70V240.65" stroke="#008000" stroke-width="3.1" stroke-linecap="round" fill="none"/><path d="M1153.52 210.00H1165.92M1153.52 242.60H1165.92M1159.72 210.00V216.80M1159.72 242.60V235.80" stroke="#008000" stroke-width="3.1" stroke-linecap="round" fill="none"/><path d="M1191.84 217.40H1204.24M1191.84 247.70H1204.24M1198.04 217.40V223.05M1198.04 247.70V242.05" stroke="#008000" stroke-width="3.1" stroke-linecap="round" fill="none"/><path d="M1230.15 201.00H1242.55M1230.15 238.40H1242.55M1236.35 201.00V210.20M1236.35 238.40V229.20" stroke="#008000" stroke-width="3.1" stroke-linecap="round" fill="none"/><path d="M1268.46 232.60H1280.87M1268.46 275.00H1280.87M1274.66 232.60V244.30M1274.66 275.00V263.30" stroke="#008000" stroke-width="3.1" stroke-linecap="round" fill="none"/><path d="M1306.78 236.90H1319.18M1306.78 284.00H1319.18M1312.98 236.90V250.95M1312.98 284.00V269.95" stroke="#008000" stroke-width="3.1" stroke-linecap="round" fill="none"/><path d="M853.20 120.50L862.70 130.00L853.20 139.50L843.70 130.00Z" fill="none" stroke="#008000" stroke-width="3.1" stroke-linejoin="round"/><path d="M891.51 103.10L901.01 112.60L891.51 122.10L882.01 112.60Z" fill="none" stroke="#008000" stroke-width="3.1" stroke-linejoin="round"/><path d="M929.83 125.25L939.33 134.75L929.83 144.25L920.33 134.75Z" fill="none" stroke="#008000" stroke-width="3.1" stroke-linejoin="round"/><path d="M968.15 155.25L977.65 164.75L968.15 174.25L958.65 164.75Z" fill="none" stroke="#008000" stroke-width="3.1" stroke-linejoin="round"/><path d="M1006.46 161.45L1015.96 170.95L1006.46 180.45L996.96 170.95Z" fill="none" stroke="#008000" stroke-width="3.1" stroke-linejoin="round"/><path d="M1044.78 169.00L1054.28 178.50L1044.78 188.00L1035.28 178.50Z" fill="none" stroke="#008000" stroke-width="3.1" stroke-linejoin="round"/><path d="M1083.09 198.15L1092.59 207.65L1083.09 217.15L1073.59 207.65Z" fill="none" stroke="#008000" stroke-width="3.1" stroke-linejoin="round"/><path d="M1121.40 221.65L1130.90 231.15L1121.40 240.65L1111.90 231.15Z" fill="none" stroke="#008000" stroke-width="3.1" stroke-linejoin="round"/><path d="M1159.72 216.80L1169.22 226.30L1159.72 235.80L1150.22 226.30Z" fill="none" stroke="#008000" stroke-width="3.1" stroke-linejoin="round"/><path d="M1198.04 223.05L1207.54 232.55L1198.04 242.05L1188.54 232.55Z" fill="none" stroke="#008000" stroke-width="3.1" stroke-linejoin="round"/><path d="M1236.35 210.20L1245.85 219.70L1236.35 229.20L1226.85 219.70Z" fill="none" stroke="#008000" stroke-width="3.1" stroke-linejoin="round"/><path d="M1274.66 244.30L1284.16 253.80L1274.66 263.30L1265.16 253.80Z" fill="none" stroke="#008000" stroke-width="3.1" stroke-linejoin="round"/><path d="M1312.98 250.95L1322.48 260.45L1312.98 269.95L1303.48 260.45Z" fill="none" stroke="#008000" stroke-width="3.1" stroke-linejoin="round"/></g>
<line x1="814.90" y1="228.30" x2="1351.50" y2="434.10" stroke="#000000" stroke-width="3.0"/>
<line x1="814.90" y1="194.60" x2="1351.50" y2="380.50" stroke="#ff0000" stroke-width="3.0"/>
<line x1="814.90" y1="198.80" x2="1351.50" y2="374.20" stroke="#0000ff" stroke-width="3.0"/>
<line x1="814.90" y1="163.00" x2="1351.50" y2="350.50" stroke="#ff00ff" stroke-width="3.0"/>
<line x1="814.90" y1="111.10" x2="1351.50" y2="283.20" stroke="#008000" stroke-width="3.0"/>
</g>
<path d="M142.40 451.20V441.20M142.40 19.65V29.65M218.90 451.20V441.20M218.90 19.65V29.65M295.40 451.20V441.20M295.40 19.65V29.65M371.90 451.20V441.20M371.90 19.65V29.65M448.40 451.20V441.20M448.40 19.65V29.65M524.90 451.20V441.20M524.90 19.65V29.65M601.40 451.20V441.20M601.40 19.65V29.65M180.65 451.20V446.20M180.65 19.65V24.65M257.15 451.20V446.20M257.15 19.65V24.65M333.65 451.20V446.20M333.65 19.65V24.65M410.15 451.20V446.20M410.15 19.65V24.65M486.65 451.20V446.20M486.65 19.65V24.65M563.15 451.20V446.20M563.15 19.65V24.65" stroke="#000" stroke-width="3.0" stroke-linecap="round" fill="none"/>
<path d="M104.15 427.25H114.15M639.65 427.25H629.65M104.15 331.35H114.15M639.65 331.35H629.65M104.15 235.45H114.15M639.65 235.45H629.65M104.15 139.55H114.15M639.65 139.55H629.65M104.15 43.65H114.15M639.65 43.65H629.65M104.15 379.30H109.15M639.65 379.30H634.65M104.15 283.40H109.15M639.65 283.40H634.65M104.15 187.50H109.15M639.65 187.50H634.65M104.15 91.60H109.15M639.65 91.60H634.65" stroke="#000" stroke-width="3.0" stroke-linecap="round" fill="none"/>
<rect x="104.15" y="19.65" width="535.50" height="431.55" fill="none" stroke="#000" stroke-width="3.4" stroke-linejoin="round"/>
<path d="M853.20 453.90V443.90M853.20 22.20V32.20M929.83 453.90V443.90M929.83 22.20V32.20M1006.46 453.90V443.90M1006.46 22.20V32.20M1083.09 453.90V443.90M1083.09 22.20V32.20M1159.72 453.90V443.90M1159.72 22.20V32.20M1236.35 453.90V443.90M1236.35 22.20V32.20M1312.98 453.90V443.90M1312.98 22.20V32.20M891.51 453.90V448.90M891.51 22.20V27.20M968.14 453.90V448.90M968.14 22.20V27.20M1044.78 453.90V448.90M1044.78 22.20V27.20M1121.40 453.90V448.90M1121.40 22.20V27.20M1198.04 453.90V448.90M1198.04 22.20V27.20M1274.66 453.90V448.90M1274.66 22.20V27.20" stroke="#000" stroke-width="3.0" stroke-linecap="round" fill="none"/>
<path d="M814.90 437.44H824.90M1351.50 437.44H1341.50M814.90 371.00H824.90M1351.50 371.00H1341.50M814.90 304.56H824.90M1351.50 304.56H1341.50M814.90 238.12H824.90M1351.50 238.12H1341.50M814.90 171.68H824.90M1351.50 171.68H1341.50M814.90 105.24H824.90M1351.50 105.24H1341.50M814.90 38.80H824.90M1351.50 38.80H1341.50M814.90 404.22H819.90M1351.50 404.22H1346.50M814.90 337.78H819.90M1351.50 337.78H1346.50M814.90 271.34H819.90M1351.50 271.34H1346.50M814.90 204.90H819.90M1351.50 204.90H1346.50M814.90 138.46H819.90M1351.50 138.46H1346.50M814.90 72.02H819.90M1351.50 72.02H1346.50" stroke="#000" stroke-width="3.0" stroke-linecap="round" fill="none"/>
<rect x="814.9" y="22.2" width="536.60" height="431.70" fill="none" stroke="#000" stroke-width="3.4" stroke-linejoin="round"/>
<path d="M157.60 1055.60V1045.60M157.60 624.50V634.50M264.80 1055.60V1045.60M264.80 624.50V634.50M372.00 1055.60V1045.60M372.00 624.50V634.50M479.20 1055.60V1045.60M479.20 624.50V634.50M586.40 1055.60V1045.60M586.40 624.50V634.50M211.20 1055.60V1050.60M211.20 624.50V629.50M318.40 1055.60V1050.60M318.40 624.50V629.50M425.60 1055.60V1050.60M425.60 624.50V629.50M532.80 1055.60V1050.60M532.80 624.50V629.50" stroke="#000" stroke-width="3.0" stroke-linecap="round" fill="none"/>
<path d="M104.30 1032.00H114.30M639.90 1032.00H629.90M104.30 936.10H114.30M639.90 936.10H629.90M104.30 840.20H114.30M639.90 840.20H629.90M104.30 744.30H114.30M639.90 744.30H629.90M104.30 648.40H114.30M639.90 648.40H629.90M104.30 984.05H109.30M639.90 984.05H634.90M104.30 888.15H109.30M639.90 888.15H634.90M104.30 792.25H109.30M639.90 792.25H634.90M104.30 696.35H109.30M639.90 696.35H634.90" stroke="#000" stroke-width="3.0" stroke-linecap="round" fill="none"/>
<rect x="104.3" y="624.5" width="535.60" height="431.10" fill="none" stroke="#000" stroke-width="3.4" stroke-linejoin="round"/>
<path d="M869.10 1056.90V1046.90M869.10 624.90V634.90M976.45 1056.90V1046.90M976.45 624.90V634.90M1083.80 1056.90V1046.90M1083.80 624.90V634.90M1191.15 1056.90V1046.90M1191.15 624.90V634.90M1298.50 1056.90V1046.90M1298.50 624.90V634.90M922.77 1056.90V1051.90M922.77 624.90V629.90M1030.12 1056.90V1051.90M1030.12 624.90V629.90M1137.47 1056.90V1051.90M1137.47 624.90V629.90M1244.83 1056.90V1051.90M1244.83 624.90V629.90" stroke="#000" stroke-width="3.0" stroke-linecap="round" fill="none"/>
<path d="M815.80 1032.90H825.80M1352.00 1032.90H1342.00M815.80 936.85H825.80M1352.00 936.85H1342.00M815.80 840.80H825.80M1352.00 840.80H1342.00M815.80 744.75H825.80M1352.00 744.75H1342.00M815.80 648.70H825.80M1352.00 648.70H1342.00M815.80 984.88H820.80M1352.00 984.88H1347.00M815.80 888.83H820.80M1352.00 888.83H1347.00M815.80 792.78H820.80M1352.00 792.78H1347.00M815.80 696.73H820.80M1352.00 696.73H1347.00" stroke="#000" stroke-width="3.0" stroke-linecap="round" fill="none"/>
<rect x="815.8" y="624.9" width="536.20" height="432.00" fill="none" stroke="#000" stroke-width="3.4" stroke-linejoin="round"/>
<defs><radialGradient id="ball" cx="0.374" cy="0.374" r="0.235" fx="0.374" fy="0.374">
<stop offset="0" stop-color="#ffffff"/><stop offset="0.3" stop-color="#ffffff"/>
<stop offset="0.45" stop-color="#d0d0f0"/><stop offset="0.62" stop-color="#b0b0e2"/><stop offset="0.82" stop-color="#7070c8"/>
<stop offset="1" stop-color="#0000a0"/></radialGradient></defs>
<path d="M157.60 941.70V1013.50M147.30 941.70H167.90M147.30 1013.50H167.90" stroke="#0000a0" stroke-width="3.1" stroke-linecap="round" fill="none"/>
<circle cx="157.60" cy="977.40" r="14.2" fill="url(#ball)"/>
<path d="M264.80 866.60V926.50M254.50 866.60H275.10M254.50 926.50H275.10" stroke="#0000a0" stroke-width="3.1" stroke-linecap="round" fill="none"/>
<circle cx="264.80" cy="896.80" r="14.2" fill="url(#ball)"/>
<path d="M372.00 854.20V908.30M361.70 854.20H382.30M361.70 908.30H382.30" stroke="#0000a0" stroke-width="3.1" stroke-linecap="round" fill="none"/>
<circle cx="372.00" cy="881.00" r="14.2" fill="url(#ball)"/>
<path d="M479.20 806.70V854.50M468.90 806.70H489.50M468.90 854.50H489.50" stroke="#0000a0" stroke-width="3.1" stroke-linecap="round" fill="none"/>
<circle cx="479.20" cy="830.60" r="14.2" fill="url(#ball)"/>
<path d="M586.40 780.20V851.60M576.10 780.20H596.70M576.10 851.60H596.70" stroke="#0000a0" stroke-width="3.1" stroke-linecap="round" fill="none"/>
<circle cx="586.40" cy="816.20" r="14.2" fill="url(#ball)"/>
<clipPath id="c104b"><rect x="104.3" y="624.5" width="535.6" height="431.0999999999999"/></clipPath>
<g clip-path="url(#c104b)">
<line x1="104.30" y1="974.60" x2="639.90" y2="779.50" stroke="#ff0000" stroke-width="3.2" stroke-dasharray="10.4 16.15" stroke-linecap="round"/>
</g>
<path d="M869.10 827.50V972.30M858.80 827.50H879.40M858.80 972.30H879.40" stroke="#0000a0" stroke-width="3.1" stroke-linecap="round" fill="none"/>
<circle cx="869.10" cy="899.30" r="14.2" fill="url(#ball)"/>
<path d="M976.45 776.50V896.10M966.15 776.50H986.75M966.15 896.10H986.75" stroke="#0000a0" stroke-width="3.1" stroke-linecap="round" fill="none"/>
<circle cx="976.45" cy="835.50" r="14.2" fill="url(#ball)"/>
<path d="M1083.80 830.30V934.00M1073.50 830.30H1094.10M1073.50 934.00H1094.10" stroke="#0000a0" stroke-width="3.1" stroke-linecap="round" fill="none"/>
<circle cx="1083.80" cy="882.20" r="14.2" fill="url(#ball)"/>
<path d="M1191.15 785.70V889.70M1180.85 785.70H1201.45M1180.85 889.70H1201.45" stroke="#0000a0" stroke-width="3.1" stroke-linecap="round" fill="none"/>
<circle cx="1191.15" cy="837.50" r="14.2" fill="url(#ball)"/>
<path d="M1298.50 689.10V825.50M1288.20 689.10H1308.80M1288.20 825.50H1308.80" stroke="#0000a0" stroke-width="3.1" stroke-linecap="round" fill="none"/>
<circle cx="1298.50" cy="757.70" r="14.2" fill="url(#ball)"/>
<clipPath id="c815b"><rect x="815.8" y="624.9" width="536.2" height="432.0000000000001"/></clipPath>
<g clip-path="url(#c815b)">
<line x1="815.80" y1="913.00" x2="1352.00" y2="782.40" stroke="#ff0000" stroke-width="3.2" stroke-dasharray="10.5 15.28" stroke-linecap="round"/>
</g>
<text x="2.50" y="30.70" font-size="43" text-anchor="start" font-weight="bold" font-style="normal" fill="#000" >a</text>
<text x="717.50" y="32.00" font-size="43" text-anchor="start" font-weight="bold" font-style="normal" fill="#000" >b</text>
<text x="-1.00" y="630.70" font-size="43" text-anchor="start" font-weight="bold" font-style="normal" fill="#000" >c</text>
<text x="706.60" y="631.00" font-size="43" text-anchor="start" font-weight="bold" font-style="normal" fill="#000" >d</text>
<text x="90.80" y="438.45" font-size="30" text-anchor="end" font-weight="normal" font-style="normal" fill="#000" >4</text>
<text x="90.80" y="342.55" font-size="30" text-anchor="end" font-weight="normal" font-style="normal" fill="#000" >6</text>
<text x="90.80" y="246.65" font-size="30" text-anchor="end" font-weight="normal" font-style="normal" fill="#000" >8</text>
<text x="90.80" y="150.75" font-size="30" text-anchor="end" font-weight="normal" font-style="normal" fill="#000" >10</text>
<text x="90.80" y="54.85" font-size="30" text-anchor="end" font-weight="normal" font-style="normal" fill="#000" >12</text>
<text x="803.50" y="448.64" font-size="30" text-anchor="end" font-weight="normal" font-style="normal" fill="#000" >8</text>
<text x="803.50" y="382.20" font-size="30" text-anchor="end" font-weight="normal" font-style="normal" fill="#000" >10</text>
<text x="803.50" y="315.76" font-size="30" text-anchor="end" font-weight="normal" font-style="normal" fill="#000" >12</text>
<text x="803.50" y="249.32" font-size="30" text-anchor="end" font-weight="normal" font-style="normal" fill="#000" >14</text>
<text x="803.50" y="182.88" font-size="30" text-anchor="end" font-weight="normal" font-style="normal" fill="#000" >16</text>
<text x="803.50" y="116.44" font-size="30" text-anchor="end" font-weight="normal" font-style="normal" fill="#000" >18</text>
<text x="803.50" y="50.00" font-size="30" text-anchor="end" font-weight="normal" font-style="normal" fill="#000" >20</text>
<text x="92.80" y="1043.20" font-size="30" text-anchor="end" font-weight="normal" font-style="normal" fill="#000" >6</text>
<text x="92.80" y="947.30" font-size="30" text-anchor="end" font-weight="normal" font-style="normal" fill="#000" >7</text>
<text x="92.80" y="851.40" font-size="30" text-anchor="end" font-weight="normal" font-style="normal" fill="#000" >8</text>
<text x="92.80" y="755.50" font-size="30" text-anchor="end" font-weight="normal" font-style="normal" fill="#000" >9</text>
<text x="92.80" y="659.60" font-size="30" text-anchor="end" font-weight="normal" font-style="normal" fill="#000" >10</text>
<text x="806.00" y="1044.10" font-size="30" text-anchor="end" font-weight="normal" font-style="normal" fill="#000" >6</text>
<text x="806.00" y="948.05" font-size="30" text-anchor="end" font-weight="normal" font-style="normal" fill="#000" >7</text>
<text x="806.00" y="852.00" font-size="30" text-anchor="end" font-weight="normal" font-style="normal" fill="#000" >8</text>
<text x="806.00" y="755.95" font-size="30" text-anchor="end" font-weight="normal" font-style="normal" fill="#000" >9</text>
<text x="806.00" y="659.90" font-size="30" text-anchor="end" font-weight="normal" font-style="normal" fill="#000" >10</text>
<text x="142.40" y="488.90" font-size="30" text-anchor="middle" font-weight="normal" font-style="normal" fill="#000" >−0.3</text>
<text x="218.90" y="488.90" font-size="30" text-anchor="middle" font-weight="normal" font-style="normal" fill="#000" >−0.2</text>
<text x="295.40" y="488.90" font-size="30" text-anchor="middle" font-weight="normal" font-style="normal" fill="#000" >−0.1</text>
<text x="371.90" y="488.90" font-size="30" text-anchor="middle" font-weight="normal" font-style="normal" fill="#000" >0.0</text>
<text x="448.40" y="488.90" font-size="30" text-anchor="middle" font-weight="normal" font-style="normal" fill="#000" >0.1</text>
<text x="524.90" y="488.90" font-size="30" text-anchor="middle" font-weight="normal" font-style="normal" fill="#000" >0.2</text>
<text x="601.40" y="488.90" font-size="30" text-anchor="middle" font-weight="normal" font-style="normal" fill="#000" >0.3</text>
<text x="853.20" y="488.60" font-size="30" text-anchor="middle" font-weight="normal" font-style="normal" fill="#000" >−0.3</text>
<text x="929.83" y="488.60" font-size="30" text-anchor="middle" font-weight="normal" font-style="normal" fill="#000" >−0.2</text>
<text x="1006.46" y="488.60" font-size="30" text-anchor="middle" font-weight="normal" font-style="normal" fill="#000" >−0.1</text>
<text x="1083.09" y="488.60" font-size="30" text-anchor="middle" font-weight="normal" font-style="normal" fill="#000" >0.0</text>
<text x="1159.72" y="488.60" font-size="30" text-anchor="middle" font-weight="normal" font-style="normal" fill="#000" >0.1</text>
<text x="1236.35" y="488.60" font-size="30" text-anchor="middle" font-weight="normal" font-style="normal" fill="#000" >0.2</text>
<text x="1312.98" y="488.60" font-size="30" text-anchor="middle" font-weight="normal" font-style="normal" fill="#000" >0.3</text>
<text x="157.60" y="1089.80" font-size="30" text-anchor="middle" font-weight="normal" font-style="normal" fill="#000" >−3</text>
<text x="264.80" y="1089.80" font-size="30" text-anchor="middle" font-weight="normal" font-style="normal" fill="#000" >−2</text>
<text x="372.00" y="1089.80" font-size="30" text-anchor="middle" font-weight="normal" font-style="normal" fill="#000" >−1</text>
<text x="479.20" y="1089.80" font-size="30" text-anchor="middle" font-weight="normal" font-style="normal" fill="#000" >0</text>
<text x="586.40" y="1089.80" font-size="30" text-anchor="middle" font-weight="normal" font-style="normal" fill="#000" >1</text>
<text x="869.10" y="1089.60" font-size="30" text-anchor="middle" font-weight="normal" font-style="normal" fill="#000" >−3</text>
<text x="976.45" y="1089.60" font-size="30" text-anchor="middle" font-weight="normal" font-style="normal" fill="#000" >−2</text>
<text x="1083.80" y="1089.60" font-size="30" text-anchor="middle" font-weight="normal" font-style="normal" fill="#000" >−1</text>
<text x="1191.15" y="1089.60" font-size="30" text-anchor="middle" font-weight="normal" font-style="normal" fill="#000" >0</text>
<text x="1298.50" y="1089.60" font-size="30" text-anchor="middle" font-weight="normal" font-style="normal" fill="#000" >1</text>
<text transform="translate(132.10,62.70) scale(1,1.03)" x="0" y="0" font-size="29" text-anchor="start"><tspan font-style="italic">f</tspan> = 6 GHz</text>
<text transform="translate(833.40,67.10) scale(1,1.03)" x="0" y="0" font-size="29" text-anchor="start"><tspan font-style="italic">f</tspan> = 12 GHz</text>
<text transform="translate(132.20,670.10) scale(1,1.03)" x="0" y="0" font-size="29" text-anchor="start"><tspan font-style="italic">f</tspan> = 6 GHz</text>
<text transform="translate(843.40,667.60) scale(1,1.03)" x="0" y="0" font-size="29" text-anchor="start"><tspan font-style="italic">f</tspan> = 12 GHz</text>
<text x="532.50" y="57.60" font-size="20.6" text-anchor="start" font-weight="normal" font-style="normal" fill="#000" ><tspan font-style="italic">V</tspan><tspan font-size="13.5" dy="6">G</tspan><tspan dy="-6"> (Volt)</tspan></text>
<rect x="547.95" y="78.05" width="12.70" height="12.70" fill="none" stroke="#000000" stroke-width="3.1" stroke-linejoin="round"/>
<text x="573.00" y="91.40" font-size="20.6" text-anchor="start" font-weight="normal" font-style="normal" fill="#000" >+1 V</text>
<circle cx="554.30" cy="111.40" r="7.15" fill="none" stroke="#ff0000" stroke-width="3.1"/>
<text x="573.00" y="118.40" font-size="20.6" text-anchor="start" font-weight="normal" font-style="normal" fill="#000" >0 V</text>
<path d="M554.30 127.87L563.50 143.67H545.10Z" fill="none" stroke="#0000ff" stroke-width="3.1" stroke-linejoin="round"/>
<text x="573.00" y="145.40" font-size="20.6" text-anchor="start" font-weight="normal" font-style="normal" fill="#000" >−1 V</text>
<path d="M554.30 175.93L563.50 160.13H545.10Z" fill="none" stroke="#ff00ff" stroke-width="3.1" stroke-linejoin="round"/>
<text x="573.00" y="172.40" font-size="20.6" text-anchor="start" font-weight="normal" font-style="normal" fill="#000" >−2 V</text>
<path d="M554.30 182.90L563.80 192.40L554.30 201.90L544.80 192.40Z" fill="none" stroke="#008000" stroke-width="3.1" stroke-linejoin="round"/>
<text x="573.00" y="199.40" font-size="20.6" text-anchor="start" font-weight="normal" font-style="normal" fill="#000" >−3 V</text>
<text x="1247.50" y="58.40" font-size="20.6" text-anchor="start" font-weight="normal" font-style="normal" fill="#000" ><tspan font-style="italic">V</tspan><tspan font-size="13.5" dy="6">G</tspan><tspan dy="-6"> (Volt)</tspan></text>
<rect x="1256.79" y="76.79" width="11.81" height="11.81" fill="none" stroke="#000000" stroke-width="3.1" stroke-linejoin="round"/>
<text x="1279.80" y="89.70" font-size="20.6" text-anchor="start" font-weight="normal" font-style="normal" fill="#000" >+1 V</text>
<circle cx="1262.70" cy="109.60" r="6.65" fill="none" stroke="#ff0000" stroke-width="3.1"/>
<text x="1279.80" y="116.60" font-size="20.6" text-anchor="start" font-weight="normal" font-style="normal" fill="#000" >0 V</text>
<path d="M1262.70 126.70L1271.26 141.40H1254.14Z" fill="none" stroke="#0000ff" stroke-width="3.1" stroke-linejoin="round"/>
<text x="1279.80" y="143.50" font-size="20.6" text-anchor="start" font-weight="normal" font-style="normal" fill="#000" >−1 V</text>
<path d="M1262.70 173.20L1271.26 158.50H1254.14Z" fill="none" stroke="#ff00ff" stroke-width="3.1" stroke-linejoin="round"/>
<text x="1279.80" y="170.40" font-size="20.6" text-anchor="start" font-weight="normal" font-style="normal" fill="#000" >−2 V</text>
<path d="M1262.70 181.47L1271.54 190.30L1262.70 199.14L1253.87 190.30Z" fill="none" stroke="#008000" stroke-width="3.1" stroke-linejoin="round"/>
<text x="1279.80" y="197.30" font-size="20.6" text-anchor="start" font-weight="normal" font-style="normal" fill="#000" >−3 V</text>
<text x="460.00" y="421.90" font-size="31" text-anchor="start" font-weight="normal" font-style="normal" fill="#000" >+<tspan font-style="italic" dx="1">H</tspan></text>
<text x="1170.00" y="427.80" font-size="31" text-anchor="start" font-weight="normal" font-style="normal" fill="#000" >+<tspan font-style="italic" dx="1">H</tspan></text>
<text x="372.00" y="530.40" font-size="30" text-anchor="middle" font-weight="normal" font-style="normal" fill="#000" ><tspan font-style="italic">I</tspan><tspan font-size="20" dy="7">dc</tspan><tspan dy="-7"> (mA)</tspan></text>
<text x="1084.50" y="531.00" font-size="30" text-anchor="middle" font-weight="normal" font-style="normal" fill="#000" ><tspan font-style="italic">I</tspan><tspan font-size="20" dy="7">dc</tspan><tspan dy="-7"> (mA)</tspan></text>
<text x="374.00" y="1130.40" font-size="30" text-anchor="middle" font-weight="normal" font-style="normal" fill="#000" ><tspan font-style="italic">V</tspan><tspan font-size="20" dy="8">G</tspan><tspan dy="-8"> (volt)</tspan></text>
<text x="1085.00" y="1131.00" font-size="30" text-anchor="middle" font-weight="normal" font-style="normal" fill="#000" ><tspan font-style="italic">V</tspan><tspan font-size="20" dy="8">G</tspan><tspan dy="-8"> (volt)</tspan></text>
<text transform="translate(28.00,236.00) rotate(-90)" x="0" y="0" font-size="29" text-anchor="middle"><tspan font-style="italic">μ</tspan><tspan font-size="20" dy="7">0</tspan><tspan dy="-7">Δ</tspan><tspan font-style="italic">H</tspan> (mT)</text>
<text transform="translate(743.00,235.50) rotate(-90)" x="0" y="0" font-size="29" text-anchor="middle"><tspan font-style="italic">μ</tspan><tspan font-size="20" dy="7">0</tspan><tspan dy="-7">Δ</tspan><tspan font-style="italic">H</tspan> (mT)</text>
<text transform="translate(34.00,986.00) rotate(-90)" x="0" y="0" font-size="30">δ<tspan font-style="italic">μ</tspan><tspan font-size="20" dy="7">0</tspan><tspan dy="-7">Δ</tspan><tspan font-style="italic">H</tspan>/δ<tspan font-style="italic">I</tspan><tspan font-size="20" dy="7">dc</tspan></text>
<text transform="translate(34.00,823.00) rotate(-90)" x="0" y="0" font-size="29.5">(mT/mA)</text>
<path d="M0 993.2H38.7M0 841.6H38.7" stroke="#000" stroke-width="2.2"/>
<text transform="translate(745.00,986.00) rotate(-90)" x="0" y="0" font-size="30">δ<tspan font-style="italic">μ</tspan><tspan font-size="20" dy="7">0</tspan><tspan dy="-7">Δ</tspan><tspan font-style="italic">H</tspan>/δ<tspan font-style="italic">I</tspan><tspan font-size="20" dy="7">dc</tspan></text>
<text transform="translate(745.00,823.00) rotate(-90)" x="0" y="0" font-size="29.5">(mT/mA)</text>
<path d="M711 993.2H749.7M711 841.6H749.7" stroke="#000" stroke-width="2.2"/>
<circle cx="440.20" cy="981.90" r="14.2" fill="url(#ball)"/>
<text x="481.30" y="991.00" font-size="29" text-anchor="start" font-weight="normal" font-style="normal" fill="#000" >Slope</text>
<line x1="403.6" y1="1022" x2="470" y2="1022" stroke="#ff0000" stroke-width="3.4" stroke-dasharray="11.3 15.7" stroke-linecap="round"/>
<text x="485.70" y="1031.20" font-size="29" text-anchor="start" font-weight="normal" font-style="normal" fill="#000" >Linear fit</text>
<circle cx="1153.60" cy="985.60" r="14.2" fill="url(#ball)"/>
<text x="1194.70" y="995.60" font-size="29" text-anchor="start" font-weight="normal" font-style="normal" fill="#000" >Slope</text>
<line x1="1117.6" y1="1025.7" x2="1184" y2="1025.7" stroke="#ff0000" stroke-width="3.4" stroke-dasharray="11.3 15.7" stroke-linecap="round"/>
<text x="1198.80" y="1034.10" font-size="29" text-anchor="start" font-weight="normal" font-style="normal" fill="#000" >Linear fit</text>
</svg></body></html>
